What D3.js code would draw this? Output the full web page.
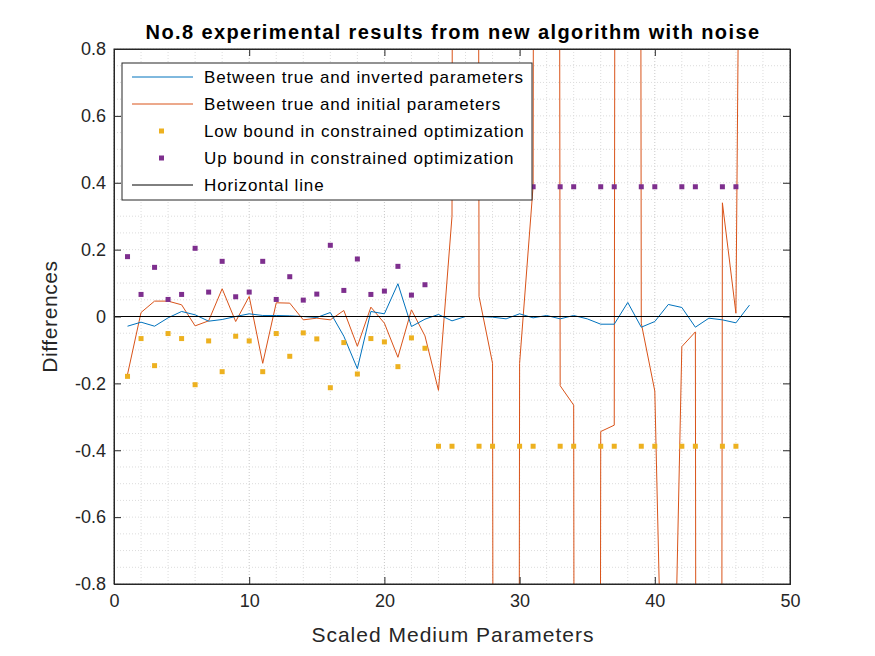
<!DOCTYPE html>
<html>
<head>
<meta charset="utf-8">
<script src="https://cdn.jsdelivr.net/npm/d3@7"></script>
<style>
body { margin: 0; background: #fff; }
text { font-family: Arial, "Liberation Sans", sans-serif; }
</style>
</head>
<body>
<div id="graph"></div>
<script>
// values
const inverted = [-0.029, -0.017, -0.029, -0.004, 0.015, 0.005, -0.014, -0.009, 0.0, 0.008,
  0.003, 0.003, 0.002, 0.0, -0.003, 0.012, -0.059, -0.156, 0.015, 0.008,
  0.098, -0.03, -0.008, 0.006, -0.013, 0.0, 0.0, -0.002, -0.007, 0.008,
  -0.004, 0.003, -0.007, 0.003, -0.007, -0.023, -0.023, 0.042, -0.032, -0.015,
  0.036, 0.027, -0.032, -0.005, -0.01, -0.019, 0.034]
const initial = [-0.173, 0.012, 0.046, 0.046, 0.035, -0.028, -0.013, 0.083, -0.015, 0.06,
  -0.14, 0.041, 0.04, -0.01, -0.005, -0.01, 0.018, -0.089, 0.028, -0.02,
  -0.122, 0.02, -0.058, -0.221, 0.3, 30, 0.06, -0.14, -30, -0.14,
  0.39, 30, -0.207, -0.265, -30, -0.344, -0.325, 30, -0.02, -0.223,
  -2, -0.09, -0.046, -30, 0.34, 0.01, 5]
const upperEarly = [0.179, 0.066, 0.147, 0.051, 0.066, 0.204, 0.073, 0.165, 0.059, 0.073,
  0.165, 0.051, 0.119, 0.049, 0.067, 0.213, 0.078, 0.172, 0.066, 0.076,
  0.150, 0.064, 0.095]
const lowerLateX = [24, 25, 27, 28, 30, 31, 33, 34, 36, 37, 39, 40, 42, 43, 45, 46]
const upperLateX = [31, 33, 34, 36, 37, 39, 40, 42, 43, 45, 46]
const lateBound = 0.388
const xTicks = [0, 10, 20, 30, 40, 50]
const yTicks = [-0.8, -0.6, -0.4, -0.2, 0, 0.2, 0.4, 0.6, 0.8]
const legendLabels = ['Between true and inverted parameters', 'Between true and initial parameters',
  'Low bound in constrained optimization', 'Up bound in constrained optimization', 'Horizontal line']

const blue = '#0072BD', orange = '#D95319', yellow = '#EDB120', purple = '#7E2F8E'

const upper = upperEarly.map((v, i) => ({x: i + 1, y: v}))
  .concat(upperLateX.map(x => ({x: x, y: lateBound})))
const lower = upperEarly.map((v, i) => ({x: i + 1, y: -v}))
  .concat(lowerLateX.map(x => ({x: x, y: -lateBound})))

const width = 875, height = 656
const mLeft = 114, mRight = 790, mTop = 49, mBottom = 584

const svg = d3.select('#graph').append('svg').attr('width', width).attr('height', height)
const xScale = d3.scaleLinear().domain([0, 50]).range([mLeft, mRight])
const yScale = d3.scaleLinear().domain([-0.8, 0.8]).range([mBottom, mTop])

// grid
const grid = svg.append('g')
d3.range(0, 50.01, 2).forEach(v => {
  grid.append('line').attr('x1', xScale(v)).attr('x2', xScale(v)).attr('y1', mTop).attr('y2', mBottom)
    .attr('stroke', v % 10 === 0 ? '#c8c8c8' : '#dcdcdc').attr('stroke-dasharray', '1,2')
})
d3.range(-0.8, 0.801, 0.05).forEach(v => {
  grid.append('line').attr('y1', yScale(v)).attr('y2', yScale(v)).attr('x1', mLeft).attr('x2', mRight)
    .attr('stroke', '#dcdcdc').attr('stroke-dasharray', '1,2')
})

svg.append('clipPath').attr('id', 'clip').append('rect')
  .attr('x', mLeft).attr('y', mTop).attr('width', mRight - mLeft).attr('height', mBottom - mTop)
const plot = svg.append('g').attr('clip-path', 'url(#clip)')

const line = d3.line().x((d, i) => xScale(i + 1)).y(d => yScale(d))
plot.append('path').datum(initial).attr('d', line).attr('fill', 'none').attr('stroke', orange).attr('stroke-width', 1)
plot.append('path').datum(inverted).attr('d', line).attr('fill', 'none').attr('stroke', blue).attr('stroke-width', 1)

plot.selectAll('.lo').data(lower).enter().append('rect')
  .attr('x', d => xScale(d.x) - 2.5).attr('y', d => yScale(d.y) - 2.5).attr('width', 5).attr('height', 5).attr('fill', yellow)
plot.selectAll('.up').data(upper).enter().append('rect')
  .attr('x', d => xScale(d.x) - 2.5).attr('y', d => yScale(d.y) - 2.5).attr('width', 5).attr('height', 5).attr('fill', purple)

plot.append('line').attr('x1', mLeft).attr('x2', mRight).attr('y1', yScale(0)).attr('y2', yScale(0))
  .attr('stroke', '#000').attr('stroke-width', 1.2)

// axes
const xAxis = d3.axisBottom(xScale).tickValues(xTicks).tickSize(-7).tickPadding(10).tickFormat(d3.format('d'))
const yAxis = d3.axisLeft(yScale).tickValues(yTicks).tickSize(-7).tickPadding(8).tickFormat(d => d === 0 ? '0' : d.toFixed(1))
svg.append('g').attr('transform', `translate(0,${mBottom})`).call(xAxis)
svg.append('g').attr('transform', `translate(${mLeft},0)`).call(yAxis)
svg.append('g').attr('transform', `translate(0,${mTop})`).call(d3.axisTop(xScale).tickValues(xTicks).tickSize(-7).tickFormat(''))
svg.append('g').attr('transform', `translate(${mRight},0)`).call(d3.axisRight(yScale).tickValues(yTicks).tickSize(-7).tickFormat(''))
svg.selectAll('.domain, .tick line').attr('stroke', '#262626')
svg.selectAll('.tick text').attr('font-size', 18).attr('fill', '#262626').attr('font-family', 'Arial, sans-serif')
svg.append('rect').attr('x', mLeft).attr('y', mTop).attr('width', mRight - mLeft).attr('height', mBottom - mTop)
  .attr('fill', 'none').attr('stroke', '#262626')

svg.append('text').attr('x', (mLeft + mRight) / 2 + 1).attr('y', 39).attr('text-anchor', 'middle')
  .attr('font-size', 20).attr('letter-spacing', 1.4).attr('font-weight', 'bold').text('No.8 experimental results from new algorithm with noise')
svg.append('text').attr('x', (mLeft + mRight) / 2 + 1).attr('y', 642).attr('text-anchor', 'middle')
  .attr('font-size', 21).attr('letter-spacing', 1).attr('fill', '#262626').text('Scaled Medium Parameters')
svg.append('text').attr('transform', `translate(57,${(mTop + mBottom) / 2}) rotate(-90)`).attr('text-anchor', 'middle')
  .attr('font-size', 21).attr('letter-spacing', 0.6).attr('fill', '#262626').text('Differences')

// legend
const lg = svg.append('g')
lg.append('rect').attr('x', 122).attr('y', 63).attr('width', 410).attr('height', 137)
  .attr('fill', '#fff').attr('stroke', '#262626')
const legendColors = [blue, orange, yellow, purple, '#000']
legendLabels.forEach((t, i) => {
  const y = 77 + i * 27
  if (i === 2 || i === 3) {
    lg.append('rect').attr('x', 159).attr('y', y - 2.5).attr('width', 5).attr('height', 5).attr('fill', legendColors[i])
  } else {
    lg.append('line').attr('x1', 132).attr('x2', 193).attr('y1', y).attr('y2', y).attr('stroke', legendColors[i])
  }
  lg.append('text').attr('x', 204).attr('y', y + 6).attr('font-size', 17).attr('letter-spacing', 0.85).text(t)
})
</script>
</body>
</html>
